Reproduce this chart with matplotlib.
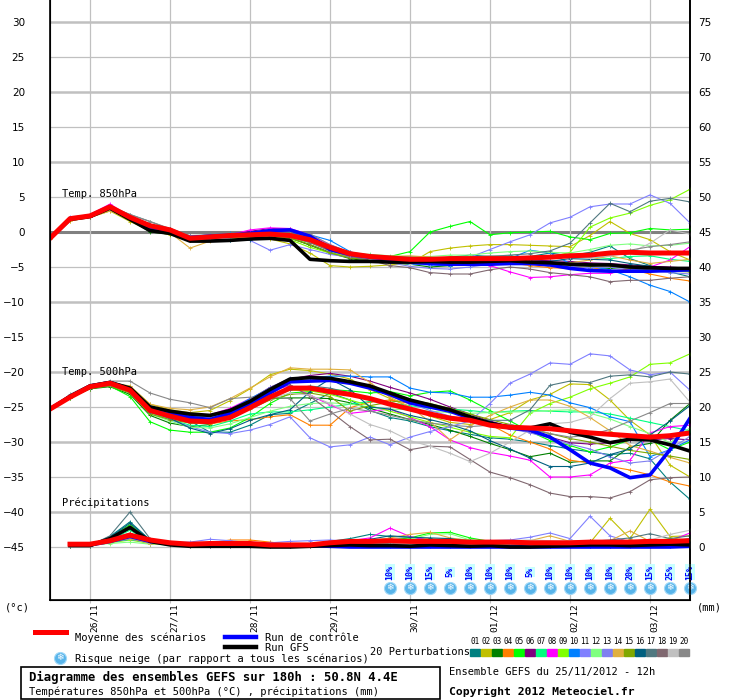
import numpy as np
import matplotlib
matplotlib.use("Agg")
import matplotlib.pyplot as plt
from matplotlib.lines import Line2D
from matplotlib.patches import Rectangle

nan = np.nan
steps = np.arange(33)  # 6-hourly steps from 25/11 12h
day_ticks = [2, 6, 10, 14, 18, 22, 26, 30]
day_labels = ["26/11", "27/11", "28/11", "29/11", "30/11", "01/12", "02/12", "03/12"]
snow_steps = list(range(17, 33))
snow_pct = [10, 10, 15, 5, 10, 10, 10, 5, 10, 10, 10, 10, 20, 15, 25, 15]
pert_colors = ["#008080", "#c0c000", "#008000", "#ff8000", "#00ff00", "#800080", "#00ff80", "#ff00ff",
               "#80ff00", "#0080ff", "#8080ff", "#80ff80", "#8080f0", "#e0b040", "#80a800", "#006080",
               "#507880", "#806870", "#c0c0c0", "#888888"]

# ---- 850 hPa (degC)
t850_mean = [-0.9, 1.9, 2.3, 3.6, 2.1, 0.9, 0.3, -0.9, -0.7, -0.5, -0.4,
             -0.3, -0.5, -1.1, -2.2, -3.1, -3.5, -3.7, -3.9, -3.9, -3.8, -3.8,
             -3.8, -3.8, -3.7, -3.6, -3.4, -3.3, -3.0, -2.9, -3.0, -3.0, -3.0]
t850_gfs = [-0.9, 1.8, 2.2, 3.4, 1.8, 0.2, -0.2, -1.3, -1.3, -1.2, -1.0,
            -0.9, -1.2, -3.9, -4.1, -4.2, -4.2, -4.3, -4.3, -4.2, -4.3, -4.3,
            -4.2, -4.1, -4.3, -4.4, -4.6, -4.7, -4.7, -5.0, -5.1, -5.2, -5.2]
t850_ctrl = [-0.9, 1.9, 2.3, 3.6, 2.0, 0.6, 0.0, -0.8, -0.6, -0.5, -0.2,
             0.2, 0.3, -0.6, -2.5, -3.2, -3.6, -3.9, -4.3, -4.5, -4.6, -4.6,
             -4.6, -4.5, -4.5, -4.7, -5.2, -5.5, -5.6, -5.6, -5.6, -5.5, -5.4]
t850_p01 = [-0.9, 1.7, 2.2, 3.4, 2.2, 1.0, 0.3, -1.0, -1.1, -1.1, -0.7, -0.6, -0.9, -1.8, -2.9, -3.7, -4.0, -4.1, -4.0, -3.8, -3.6, -3.3, -3.5, -3.7, -3.5, -3.0, -3.4, -2.9, -2.0, -3.8, -4.8, -5.7, -6.4]
t850_p02 = [-1.0, 1.6, 2.1, 3.0, 1.5, 0.2, -0.4, -1.1, -0.9, -0.8, -0.7, -1.0, -1.7, -3.0, -4.8, -5.0, -4.9, -4.7, -4.5, -2.8, -2.3, -2.0, -1.8, -1.8, -1.9, -2.0, -2.1, -0.5, 1.5, -0.2, -1.1, -2.8, -4.0]
t850_p03 = [-0.9, 1.8, 2.2, 3.4, 1.8, 0.0, -0.3, -1.1, -0.9, -0.6, -0.6, -0.5, -0.8, -1.9, -3.0, -3.8, -4.2, -4.4, -4.6, -5.0, -4.8, -4.7, -4.7, -4.4, -4.5, -4.9, -4.9, -5.1, -5.2, -5.0, -5.1, -5.3, -5.4]
t850_p04 = [-0.8, 1.9, 2.4, 3.5, 2.3, 0.9, 0.4, -0.7, -0.6, -0.5, -0.4, 0.2, 0.0, -1.2, -2.6, -3.3, -3.7, -3.9, -4.1, -4.3, -4.5, -4.4, -4.5, -4.4, -4.8, -5.1, -5.2, -5.0, -5.6, -5.3, -6.0, -6.6, -7.0]
t850_p05 = [-0.9, 1.7, 2.1, 3.3, 2.0, 0.6, 0.2, -0.9, -0.7, -0.6, -0.5, -0.6, -0.8, -1.5, -2.5, -3.2, -3.5, -3.5, -2.8, 0.0, 0.8, 1.5, -0.4, -0.1, 0.0, 0.1, -0.7, -1.1, -0.2, -0.1, 0.5, 0.3, 0.4]
t850_p06 = [-0.9, 1.9, 2.4, 3.7, 2.3, 1.0, 0.3, -0.6, -0.5, -0.3, 0.1, 0.5, 0.4, -0.5, -2.0, -3.0, -3.4, -3.7, -3.9, -4.0, -4.1, -4.0, -3.9, -3.9, -4.0, -4.1, -4.2, -4.4, -4.5, -4.7, -4.9, -5.0, -5.2]
t850_p07 = [-0.9, 1.8, 2.3, 3.5, 2.1, 0.8, 0.2, -0.8, -0.7, -0.5, -0.4, -0.2, -0.4, -1.2, -2.4, -3.3, -3.6, -3.5, -3.6, -3.7, -3.9, -3.6, -3.5, -3.4, -3.7, -3.6, -3.3, -3.6, -3.8, -3.5, -3.4, -3.9, -4.2]
t850_p08 = [-0.9, 1.9, 2.5, 4.0, 2.2, 1.0, 0.4, -0.8, -0.6, -0.4, 0.3, 0.6, 0.5, -0.4, -1.8, -3.0, -3.5, -3.7, -4.0, -4.1, -4.2, -4.4, -4.8, -5.7, -6.5, -6.4, -6.1, -5.9, -5.9, -5.4, -5.0, -4.0, -2.1]
t850_p09 = [-0.9, 1.8, 2.2, 3.5, 2.0, 0.7, 0.1, -1.0, -0.9, -0.8, -0.7, -0.7, -1.1, -2.2, -3.0, -3.5, -3.7, -3.8, -3.9, -3.8, -3.7, -3.6, -3.8, -4.0, -3.9, -3.6, -2.9, 0.7, 2.0, 2.7, 3.8, 4.6, 6.1]
t850_p10 = [-0.9, 2.0, 2.4, 3.6, 2.3, 1.1, 0.5, -0.6, -0.4, -0.2, -0.1, 0.0, -0.2, -0.4, -1.2, -2.8, -3.7, -4.2, -4.6, -4.7, -4.8, -4.6, -4.5, -3.8, -2.6, -3.0, -4.5, -4.9, -5.4, -6.4, -7.6, -8.5, -10.0]
t850_p11 = [-0.9, 2.2, 2.3, 3.5, 2.0, 0.8, 0.1, -0.8, -0.8, -0.9, -1.2, -2.6, -1.8, -2.5, -3.2, -3.6, -3.8, -4.0, -4.2, -4.4, -4.3, -3.6, -2.5, -1.4, -0.4, 1.3, 2.1, 3.6, 4.0, 4.0, 5.3, 4.1, 1.3]
t850_p12 = [-0.9, 1.8, 2.3, 3.4, 2.1, 0.9, 0.3, -0.8, -0.6, -0.5, -0.4, -0.4, -0.7, -1.3, -2.4, -3.1, -3.2, -3.4, -3.5, -3.5, -3.3, -3.3, -3.0, -2.8, -2.7, -2.9, -3.0, -2.5, -1.9, -1.7, -2.0, -1.9, -1.6]
t850_p13 = [-0.9, 1.9, 2.3, 3.6, 2.0, 0.8, 0.3, -0.9, -0.8, -0.7, -0.5, -0.4, -0.6, -1.3, -2.6, -3.4, -3.9, -4.4, -4.9, -5.2, -5.3, -5.0, -4.6, -4.4, -4.6, -4.8, -4.9, -5.1, -5.0, -5.3, -5.5, -5.8, -6.0]
t850_p14 = [-1.0, 1.6, 2.1, 3.0, 1.9, 0.5, -0.1, -2.3, -1.3, -1.0, -0.7, -0.5, -0.8, -1.5, -2.7, -3.4, -3.6, -3.5, -3.4, -3.6, -3.8, -4.0, -4.1, -4.3, -4.6, -4.8, -4.4, -4.0, -3.4, -4.0, -4.5, -4.2, -3.9]
t850_p15 = [-0.9, 1.8, 2.2, 3.4, 2.0, 0.6, 0.2, -0.9, -0.8, -0.6, -0.6, -0.5, -0.9, -1.8, -3.0, -3.7, -4.0, -4.1, -4.2, -4.3, -4.3, -4.4, -4.2, -4.3, -4.5, -4.6, -4.7, -4.9, -4.8, -5.2, -5.4, -5.6, -5.7]
t850_p16 = [-0.9, 1.9, 2.3, 3.6, 2.0, 0.9, 0.4, -1.0, -0.9, -1.2, -1.1, -0.3, -0.3, -1.0, -2.1, -3.2, -3.7, -3.9, -4.0, -4.3, -4.5, -4.5, -4.4, -4.3, -4.5, -4.2, -3.8, -3.9, -4.0, -4.5, -4.9, -5.3, -5.6]
t850_p17 = [-0.9, 1.8, 2.3, 3.6, 2.5, 1.5, 0.4, -0.7, -0.5, -0.5, -0.4, -0.3, -0.1, -0.8, -2.0, -3.0, -3.4, -3.6, -3.7, -3.9, -4.0, -3.7, -3.5, -3.3, -3.1, -2.7, -1.6, 1.3, 4.1, 2.9, 4.4, 4.8, 4.3]
t850_p18 = [-0.9, 1.8, 2.2, 3.4, 2.0, 0.7, 0.2, -0.9, -0.8, -0.7, -0.6, -0.5, -0.7, -1.5, -2.7, -3.5, -4.0, -4.8, -5.1, -5.8, -6.0, -6.0, -5.4, -5.0, -5.3, -5.8, -6.1, -6.4, -7.1, -6.9, -6.9, -6.6, -6.4]
t850_p19 = [-0.9, 1.9, 2.3, 3.5, 2.2, 0.9, 0.3, -0.8, -0.7, -0.5, -0.4, -0.3, -0.5, -1.2, -2.4, -3.3, -3.8, -4.2, -4.5, -4.6, -4.5, -4.3, -4.0, -3.8, -3.7, -3.6, -3.5, -3.7, -3.4, -3.0, -1.6, 0.3, -0.3]
t850_p20 = [-0.8, 1.9, 2.4, 3.7, 2.5, 1.5, 0.5, -0.5, -0.4, -0.3, -0.2, -0.1, 0.2, -0.3, -1.8, -2.9, -3.3, -3.5, -3.6, -3.7, -3.7, -3.6, -3.4, -3.5, -3.6, -3.5, -3.3, -3.1, -2.9, -2.6, -2.1, -1.8, -1.4]

# ---- 500 hPa (degC)
t500_mean = [-25.3, -23.6, -22.1, -21.6, -22.6, -25.5, -26.3, -27.0, -27.1, -26.5, -25.1,
             -23.6, -22.3, -22.3, -22.8, -23.2, -23.8, -24.6, -25.3, -26.0, -26.6, -26.9,
             -27.6, -27.9, -28.0, -28.1, -28.4, -28.7, -28.9, -29.1, -29.3, -29.1, -28.7]
t500_gfs = [-25.3, -23.5, -22.0, -21.5, -22.3, -25.0, -25.6, -26.0, -26.2, -25.5, -24.2,
            -22.5, -21.0, -20.8, -20.9, -21.4, -22.0, -23.0, -24.0, -24.7, -25.4, -26.4,
            -27.3, -27.9, -28.0, -27.4, -28.6, -29.3, -30.1, -29.6, -29.7, -30.4, -31.3]
t500_ctrl = [-25.3, -23.5, -22.0, -21.5, -22.4, -25.2, -25.9, -26.5, -26.8, -25.9, -24.5,
             -23.0, -21.4, -21.3, -21.2, -21.6, -22.3, -23.2, -24.4, -25.0, -25.6, -26.6,
             -27.3, -28.0, -28.3, -29.3, -31.1, -33.0, -33.7, -35.1, -34.7, -31.1, -26.6]
t500_p01 = [-25.3, -23.5, -22.3, -21.8, -22.3, -24.8, -25.7, -27.0, -28.6, -28.6, -27.6, -26.1, -25.9, -24.5, -23.0, -24.0, -25.5, -26.5, -27.0, -27.8, -28.4, -28.9, -29.4, -29.6, -30.0, -30.5, -31.0, -31.4, -31.8, -31.6, -32.4, -35.7, -38.2]
t500_p02 = [-25.3, -23.7, -22.4, -21.9, -22.0, -24.6, -25.4, -25.8, -25.5, -24.1, -22.4, -20.4, -19.6, -19.8, -20.3, -21.0, -22.5, -23.8, -25.0, -26.3, -27.2, -27.5, -26.8, -25.8, -24.0, -23.2, -21.7, -21.8, -24.0, -26.9, -29.0, -33.3, -35.0]
t500_p03 = [-25.3, -23.7, -22.4, -22.1, -23.2, -26.2, -27.3, -27.8, -27.5, -26.5, -25.0, -23.8, -23.7, -23.7, -23.8, -24.4, -25.2, -26.0, -26.8, -27.5, -28.3, -29.2, -30.2, -31.1, -32.1, -31.6, -32.9, -32.7, -32.7, -30.7, -30.2, -26.9, -24.5]
t500_p04 = [-25.3, -23.6, -22.2, -21.7, -22.5, -25.4, -26.5, -27.2, -27.4, -27.0, -26.8, -26.4, -26.1, -27.6, -27.6, -25.1, -24.3, -24.0, -24.5, -25.0, -25.6, -26.5, -27.5, -29.0, -30.0, -31.0, -32.6, -33.0, -33.5, -34.0, -34.7, -35.7, -36.3]
t500_p05 = [-25.3, -23.5, -22.3, -22.0, -23.5, -27.1, -28.3, -28.6, -28.6, -28.0, -26.5, -24.5, -23.0, -22.8, -22.5, -22.7, -23.0, -22.8, -23.4, -22.9, -22.7, -24.0, -25.5, -27.0, -28.5, -29.8, -30.5, -31.4, -30.7, -29.7, -29.7, -31.1, -30.0]
t500_p06 = [-25.3, -23.5, -22.1, -21.6, -22.3, -25.2, -25.8, -26.2, -26.3, -25.4, -23.9, -22.2, -21.0, -20.5, -20.2, -20.6, -21.3, -22.2, -23.0, -23.9, -25.0, -26.0, -27.0, -27.8, -28.6, -29.3, -30.1, -30.3, -30.1, -29.7, -29.7, -29.5, -29.7]
t500_p07 = [-25.3, -23.6, -22.2, -21.8, -22.8, -25.8, -26.8, -27.6, -27.8, -27.0, -26.0, -25.7, -25.7, -25.4, -25.0, -24.6, -24.2, -24.4, -24.8, -25.2, -25.3, -25.5, -25.8, -25.6, -25.5, -25.6, -25.7, -25.7, -26.0, -26.6, -27.2, -27.8, -28.4]
t500_p08 = [-25.3, -23.4, -22.0, -21.5, -22.2, -25.0, -25.6, -26.0, -26.1, -25.2, -23.8, -22.6, -22.0, -23.3, -24.7, -25.9, -25.6, -25.3, -26.5, -27.8, -29.7, -30.8, -31.5, -32.0, -32.6, -35.0, -35.0, -34.7, -33.0, -32.6, -28.7, -27.8, -27.6]
t500_p09 = [-25.3, -23.6, -22.2, -21.8, -22.6, -25.6, -26.5, -27.2, -27.2, -26.4, -25.0, -23.6, -22.6, -22.7, -23.2, -24.0, -24.8, -25.6, -26.4, -27.2, -27.9, -28.6, -29.2, -29.4, -25.9, -24.5, -23.6, -22.4, -21.6, -20.7, -18.9, -18.7, -17.4]
t500_p10 = [-25.3, -23.4, -22.1, -21.7, -22.6, -25.3, -25.9, -26.4, -26.3, -25.4, -23.8, -22.3, -21.2, -20.8, -20.6, -20.6, -20.7, -20.7, -22.3, -22.9, -23.0, -23.6, -23.6, -23.3, -22.9, -23.3, -24.4, -25.1, -26.4, -27.1, -32.1, -31.1, -29.7]
t500_p11 = [-25.3, -23.3, -22.0, -21.5, -22.6, -25.4, -26.8, -27.8, -28.6, -28.8, -28.3, -27.5, -26.4, -29.4, -30.7, -30.4, -29.3, -30.4, -29.3, -28.5, -27.8, -27.0, -24.5, -21.6, -20.3, -18.7, -18.9, -17.4, -17.7, -19.7, -20.4, -20.0, -22.6]
t500_p12 = [-25.3, -23.5, -22.3, -21.9, -22.9, -26.0, -27.0, -27.9, -28.0, -27.4, -26.5, -25.6, -24.9, -24.5, -24.4, -24.6, -25.0, -25.3, -25.4, -25.6, -25.8, -25.9, -25.8, -25.7, -25.7, -25.5, -25.4, -25.9, -26.7, -27.8, -28.8, -30.1, -28.0]
t500_p13 = [-25.3, -23.5, -22.1, -21.6, -22.4, -25.2, -25.9, -26.4, -26.5, -25.6, -24.0, -22.2, -20.9, -20.7, -20.8, -21.3, -22.2, -23.4, -24.5, -25.5, -26.3, -27.0, -27.6, -28.1, -28.7, -29.4, -30.3, -31.0, -32.1, -33.0, -32.7, -31.0, -29.2]
t500_p14 = [-25.3, -23.4, -22.0, -21.5, -22.0, -24.6, -25.2, -25.4, -25.0, -23.8, -22.3, -20.7, -19.4, -19.6, -19.6, -19.7, -21.5, -23.6, -25.0, -27.1, -29.7, -27.7, -26.2, -25.0, -24.0, -24.0, -24.9, -26.5, -28.4, -30.5, -31.3, -32.2, -33.0]
t500_p15 = [-25.3, -23.6, -22.3, -22.0, -23.0, -26.0, -26.8, -27.3, -27.3, -26.6, -25.3, -24.0, -23.2, -23.0, -23.5, -25.6, -24.8, -24.3, -24.0, -24.5, -25.2, -26.0, -26.8, -27.5, -28.2, -28.8, -29.5, -30.0, -30.6, -31.2, -31.6, -32.0, -32.5]
t500_p16 = [-25.3, -23.5, -22.2, -21.8, -22.7, -25.5, -26.6, -28.0, -28.8, -28.1, -26.9, -26.1, -25.4, -22.8, -21.0, -22.5, -25.0, -25.3, -26.2, -26.8, -27.5, -28.4, -29.8, -31.0, -32.3, -33.5, -33.5, -33.0, -31.8, -31.0, -29.0, -27.0, -24.8]
t500_p17 = [-25.3, -23.6, -22.3, -21.9, -22.8, -25.7, -26.6, -27.2, -27.0, -26.2, -24.8, -23.4, -22.5, -22.0, -22.3, -23.0, -23.8, -24.6, -25.3, -26.0, -26.6, -26.7, -26.9, -26.9, -25.4, -21.9, -21.3, -21.5, -20.6, -20.4, -20.7, -20.0, -20.3]
t500_p18 = [-25.3, -23.5, -22.1, -21.6, -22.4, -25.2, -26.0, -26.6, -26.7, -25.8, -24.3, -22.7, -21.8, -23.5, -25.6, -27.8, -29.7, -29.6, -31.1, -30.6, -30.7, -32.5, -34.3, -35.1, -36.1, -37.3, -37.8, -37.8, -38.0, -37.1, -35.4, -35.1, -35.0]
t500_p19 = [-25.3, -23.6, -22.2, -21.7, -22.6, -25.4, -26.1, -26.8, -26.9, -26.2, -25.0, -23.8, -23.0, -23.3, -24.5, -26.0, -27.5, -28.4, -29.8, -30.6, -31.6, -32.8, -31.6, -30.0, -28.3, -27.4, -27.2, -26.4, -23.8, -21.6, -21.4, -21.0, -24.3]
t500_p20 = [-25.3, -23.2, -21.8, -21.3, -21.3, -23.0, -23.9, -24.4, -25.1, -23.8, -23.6, -23.6, -23.8, -27.0, -26.0, -25.2, -25.6, -26.2, -26.8, -27.3, -27.6, -27.8, -27.6, -27.5, -28.0, -28.8, -29.3, -29.0, -28.2, -27.0, -25.8, -24.5, -24.5]

# ---- precipitation (mm, right axis)
pr_mean = [nan, 0.4, 0.4, 0.9, 1.7, 1.0, 0.6, 0.4, 0.5, 0.5, 0.5, 0.3, 0.3, 0.3, 0.6, 0.8, 0.8, 0.9, 0.8, 0.8, 0.8, 0.7, 0.7, 0.7, 0.6, 0.6, 0.6, 0.7, 0.7, 0.7, 0.8, 0.8, 0.9]
pr_gfs = [nan, 0.2, 0.2, 1.2, 2.8, 0.8, 0.3, 0.1, 0.1, 0.1, 0.1, 0.0, 0.0, 0.1, 0.2, 0.3, 0.2, 0.2, 0.1, 0.3, 0.2, 0.1, 0.2, 0.0, 0.0, 0.1, 0.2, 0.3, 0.3, 0.2, 0.3, 0.4, 0.3]
pr_ctrl = [nan, 0.3, 0.3, 0.8, 1.5, 0.8, 0.5, 0.3, 0.3, 0.3, 0.3, 0.2, 0.2, 0.2, 0.1, 0.0, 0.0, 0.0, 0.0, 0.0, 0.0, 0.0, 0.0, 0.0, 0.0, 0.0, 0.0, 0.0, 0.0, 0.0, 0.0, 0.0, 0.1]
pr_p01 = [nan, 0.2, 0.2, 1.5, 3.6, 1.0, 0.4, 0.3, 0.3, 0.3, 0.2, 0.2, 0.3, 0.4, 0.8, 1.2, 1.8, 1.5, 1.4, 1.0, 0.6, 0.5, 0.4, 0.5, 0.3, 0.6, 0.8, 0.9, 0.6, 0.4, 0.6, 0.8, 1.2]
pr_p02 = [nan, 0.3, 0.3, 1.0, 1.6, 0.6, 0.3, 0.2, 0.2, 0.2, 0.1, 0.1, 0.2, 0.3, 0.4, 0.5, 0.4, 0.5, 0.4, 0.3, 0.3, 0.4, 0.3, 0.5, 0.6, 0.5, 0.4, 0.6, 4.1, 1.2, 5.4, 1.5, 1.6]
pr_p03 = [nan, 0.3, 0.3, 1.2, 2.6, 0.8, 0.3, 0.2, 0.1, 0.1, 0.1, 0.1, 0.2, 0.3, 0.5, 0.6, 0.8, 0.6, 0.5, 0.7, 0.6, 0.5, 0.4, 0.4, 0.3, 0.3, 0.2, 0.3, 0.4, 0.3, 0.4, 0.5, 0.6]
pr_p04 = [nan, 0.3, 0.3, 0.9, 1.8, 0.6, 0.3, 0.4, 0.6, 1.0, 1.0, 0.7, 0.4, 0.3, 0.4, 0.5, 0.6, 0.9, 1.0, 1.2, 0.9, 0.8, 0.6, 0.5, 0.6, 0.7, 0.8, 0.9, 0.6, 0.7, 0.5, 0.6, 0.9]
pr_p05 = [nan, 0.2, 0.2, 1.3, 3.2, 0.9, 0.3, 0.2, 0.2, 0.2, 0.2, 0.2, 0.3, 0.4, 0.6, 0.9, 0.9, 1.0, 1.3, 2.0, 2.1, 1.3, 0.8, 0.6, 0.5, 0.6, 0.5, 0.4, 0.4, 0.5, 0.3, 0.4, 0.6]
pr_p06 = [nan, 0.3, 0.3, 0.8, 1.5, 0.5, 0.3, 0.2, 0.2, 0.2, 0.1, 0.1, 0.1, 0.2, 0.3, 0.4, 0.5, 0.4, 0.4, 0.3, 0.3, 0.4, 0.3, 0.3, 0.4, 0.2, 0.3, 0.3, 0.2, 0.3, 0.4, 0.3, 0.5]
pr_p07 = [nan, 0.3, 0.3, 1.0, 2.4, 0.7, 0.3, 0.2, 0.2, 0.3, 0.3, 0.2, 0.2, 0.3, 0.5, 0.7, 0.9, 1.0, 0.8, 1.0, 1.2, 1.0, 0.7, 0.6, 0.5, 0.4, 0.4, 0.6, 0.5, 0.6, 0.5, 0.7, 0.8]
pr_p08 = [nan, 0.3, 0.3, 0.8, 1.5, 0.7, 0.4, 0.2, 0.2, 0.2, 0.2, 0.2, 0.2, 0.3, 0.5, 0.9, 1.3, 2.7, 1.5, 0.9, 0.7, 0.6, 0.8, 0.7, 0.5, 0.4, 0.3, 0.3, 0.4, 0.3, 0.5, 0.9, 2.0]
pr_p09 = [nan, 0.2, 0.2, 0.6, 1.0, 0.5, 0.3, 0.2, 0.2, 0.2, 0.2, 0.3, 0.3, 0.4, 0.4, 0.5, 0.6, 0.6, 0.5, 0.4, 0.5, 0.4, 0.3, 0.3, 0.2, 0.3, 0.2, 0.3, 0.2, 0.3, 0.8, 1.2, 1.0]
pr_p10 = [nan, 0.3, 0.3, 0.7, 1.1, 0.6, 0.3, 0.2, 0.2, 0.2, 0.1, 0.1, 0.1, 0.1, 0.2, 0.3, 0.3, 0.2, 0.1, 0.1, 0.1, 0.1, 0.1, 0.2, 0.1, 0.1, 0.2, 0.1, 0.1, 0.1, 0.1, 0.2, 0.2]
pr_p11 = [nan, 0.3, 0.3, 0.8, 1.4, 0.7, 0.6, 0.7, 1.1, 0.9, 0.6, 0.6, 0.8, 0.9, 1.0, 0.8, 0.6, 0.5, 0.4, 0.6, 0.5, 0.6, 0.9, 1.0, 1.4, 2.0, 1.2, 4.4, 1.6, 0.7, 0.5, 0.6, 0.9]
pr_p12 = [nan, 0.3, 0.3, 0.5, 0.7, 0.4, 0.3, 0.3, 0.3, 0.2, 0.2, 0.2, 0.3, 0.4, 0.6, 0.8, 0.8, 0.9, 1.1, 1.8, 1.9, 1.0, 0.7, 0.6, 0.5, 0.4, 0.5, 0.4, 0.6, 0.8, 0.9, 0.7, 0.6]
pr_p13 = [nan, 0.3, 0.3, 0.8, 1.4, 0.6, 0.3, 0.2, 0.2, 0.2, 0.2, 0.1, 0.2, 0.2, 0.3, 0.4, 0.5, 0.4, 0.3, 0.3, 0.4, 0.3, 0.3, 0.2, 0.3, 0.3, 0.2, 0.3, 0.3, 0.2, 0.3, 0.4, 0.4]
pr_p14 = [nan, 0.3, 0.3, 0.7, 1.2, 0.5, 0.3, 0.2, 0.3, 0.4, 0.5, 0.3, 0.2, 0.3, 0.5, 0.7, 0.9, 1.3, 1.8, 2.1, 1.3, 0.9, 0.6, 0.5, 0.9, 1.6, 0.8, 0.6, 0.9, 2.3, 0.8, 0.7, 0.8]
pr_p15 = [nan, 0.2, 0.2, 1.2, 3.0, 0.9, 0.3, 0.2, 0.2, 0.2, 0.1, 0.1, 0.1, 0.2, 0.3, 0.5, 0.6, 0.5, 0.6, 0.7, 0.5, 0.4, 0.4, 0.3, 0.3, 0.4, 0.3, 0.2, 0.3, 0.4, 0.6, 0.5, 0.4]
pr_p16 = [nan, 0.2, 0.2, 1.4, 3.4, 1.0, 0.3, 0.2, 0.2, 0.2, 0.2, 0.2, 0.2, 0.3, 0.5, 0.8, 1.1, 1.6, 1.4, 1.3, 1.2, 0.8, 0.6, 0.5, 0.4, 0.3, 0.5, 0.7, 0.9, 0.8, 1.1, 0.8, 0.6]
pr_p17 = [nan, 0.2, 0.2, 1.6, 5.0, 1.2, 0.4, 0.2, 0.2, 0.2, 0.2, 0.2, 0.2, 0.3, 0.4, 0.5, 0.7, 0.8, 0.7, 0.6, 0.5, 0.6, 0.5, 0.4, 0.6, 0.5, 0.6, 0.8, 1.0, 1.3, 1.9, 1.2, 1.6]
pr_p18 = [nan, 0.3, 0.3, 1.2, 2.0, 0.7, 0.3, 0.3, 0.4, 0.6, 0.5, 0.3, 0.3, 0.4, 0.5, 0.6, 0.7, 0.5, 0.5, 0.6, 0.5, 0.4, 0.6, 0.4, 0.3, 0.4, 0.5, 0.4, 0.3, 0.4, 0.5, 0.3, 0.4]
pr_p19 = [nan, 0.3, 0.3, 0.9, 1.7, 0.6, 0.3, 0.2, 0.2, 0.2, 0.2, 0.2, 0.2, 0.3, 0.4, 0.5, 0.5, 0.6, 0.5, 0.4, 0.5, 0.4, 0.5, 0.9, 1.0, 0.9, 0.8, 0.7, 0.6, 0.8, 1.0, 1.8, 2.4]
pr_p20 = [nan, 0.2, 0.2, 1.4, 2.8, 0.9, 0.3, 0.2, 0.2, 0.2, 0.1, 0.1, 0.1, 0.2, 0.3, 0.4, 0.5, 0.4, 0.3, 0.3, 0.2, 0.3, 0.2, 0.1, 0.2, 0.2, 0.1, 0.2, 0.1, 0.2, 0.1, 0.2, 0.1]

t850_pert = [t850_p01, t850_p02, t850_p03, t850_p04, t850_p05, t850_p06, t850_p07, t850_p08, t850_p09, t850_p10,
             t850_p11, t850_p12, t850_p13, t850_p14, t850_p15, t850_p16, t850_p17, t850_p18, t850_p19, t850_p20]
t500_pert = [t500_p01, t500_p02, t500_p03, t500_p04, t500_p05, t500_p06, t500_p07, t500_p08, t500_p09, t500_p10,
             t500_p11, t500_p12, t500_p13, t500_p14, t500_p15, t500_p16, t500_p17, t500_p18, t500_p19, t500_p20]
pr_pert = [pr_p01, pr_p02, pr_p03, pr_p04, pr_p05, pr_p06, pr_p07, pr_p08, pr_p09, pr_p10,
           pr_p11, pr_p12, pr_p13, pr_p14, pr_p15, pr_p16, pr_p17, pr_p18, pr_p19, pr_p20]

PR_OFF = -45  # 0 mm sits on -45 degC of the left scale
MONO = "DejaVu Sans Mono"
W, H = 740, 700


def fx(x):
    return x / W


def fy(y):
    return 1 - y / H


def flake(ax, x, y, transform):
    ax.scatter([x], [y], s=75, color="#58b4ea", edgecolors="#9fd8f8", linewidths=0.8,
               transform=transform, zorder=8, clip_on=False)
    ax.text(x, y, "\u2744", color="white", fontsize=6.5, ha="center", va="center",
            transform=transform, zorder=9, family="DejaVu Sans", clip_on=False)


fig = plt.figure(figsize=(W / 100, H / 100), dpi=100)
ax = fig.add_axes([fx(50), 1 - 600 / H, 640 / W, 600 / H])
ax.set_xlim(0, 32)
ax.set_ylim(-368 / 7, 232 / 7)

# grid
for v in range(-45, 31, 5):
    if v == 0:
        ax.axhline(v, color="#808080", lw=2.2, zorder=1)
    else:
        ax.axhline(v, color="#c0c0c0", lw=1.8 if v % 10 == 0 else 0.9, zorder=1)
for d in day_ticks:
    ax.axvline(d, color="#c0c0c0", lw=0.9, zorder=1)

# ensemble members
for c, a, b, p in zip(pert_colors, t850_pert, t500_pert, pr_pert):
    kw = dict(color=c, lw=0.8, marker="+", ms=2.6, mew=0.6, zorder=3)
    ax.plot(steps, a, **kw)
    ax.plot(steps, b, **kw)
    ax.plot(steps, np.array(p) + PR_OFF, **kw)

# control, GFS, mean
for ser in (t850_ctrl, t500_ctrl, np.array(pr_ctrl) + PR_OFF):
    ax.plot(steps, ser, color="#0000ff", lw=2.6, zorder=4)
for ser in (t850_gfs, t500_gfs, np.array(pr_gfs) + PR_OFF):
    ax.plot(steps, ser, color="black", lw=2.6, zorder=5)
for ser in (t850_mean, t500_mean, np.array(pr_mean) + PR_OFF):
    ax.plot(steps, ser, color="#ff0000", lw=3.6, zorder=6)

ax.text(0.6, (232 - 194) / 7, "Temp. 850hPa", family=MONO, fontsize=7.5, va="center", zorder=7)
ax.text(0.6, (232 - 372) / 7, "Temp. 500hPa", family=MONO, fontsize=7.5, va="center", zorder=7)
ax.text(0.6, (232 - 503) / 7, "Pr\u00e9cipitations", family=MONO, fontsize=7.5, va="center", zorder=7)

# snow risk
for s, pct in zip(snow_steps, snow_pct):
    flake(ax, s, (232 - 588) / 7, ax.transData)
    ax.text(s, (232 - 572) / 7, f"{pct}%", rotation=90, ha="center", va="center", color="#0000ff",
            family=MONO, fontsize=6, fontweight="bold", zorder=9, clip_on=False,
            bbox=dict(boxstyle="square,pad=0.05", fc="#c8ffff", ec="none"))

# axes
for sp in ("left", "right", "bottom"):
    ax.spines[sp].set_color("black")
    ax.spines[sp].set_linewidth(1.2)
ax.spines["top"].set_visible(False)
ax.set_yticks(range(-45, 31, 5))
ax.tick_params(axis="y", length=0, pad=18, labelsize=7.5)
ax.set_xticks(day_ticks)
ax.set_xticklabels(day_labels, rotation=90, family=MONO, fontsize=6.8, ha="left", va="top")
ax.tick_params(axis="x", length=2, color="#c0c0c0", pad=0.3)
ax2 = ax.twinx()
ax2.set_ylim(-368 / 7 + 45, 232 / 7 + 45)
ax2.set_yticks(range(0, 76, 5))
ax2.tick_params(axis="y", length=0, pad=6, labelsize=7.5)
ax2.spines["top"].set_visible(False)
ax2.spines["right"].set_linewidth(1.2)

fig.text(fx(5), fy(607), "(\u00b0c)", family=MONO, fontsize=7.5, va="center")
fig.text(fx(697), fy(607), "(mm)", family=MONO, fontsize=7.5, va="center")

# legend
fig.add_artist(Line2D([fx(35), fx(66)], [fy(632), fy(632)], color="#ff0000", lw=3.6))
fig.text(fx(75), fy(638), "Moyenne des sc\u00e9narios", family=MONO, fontsize=7.5, va="center")
fig.add_artist(Line2D([fx(225), fx(256)], [fy(637), fy(637)], color="#0000ff", lw=3.2))
fig.text(fx(265), fy(638), "Run de contr\u00f4le", family=MONO, fontsize=7.5, va="center")
fig.add_artist(Line2D([fx(225), fx(256)], [fy(647), fy(647)], color="black", lw=3.2))
fig.text(fx(265), fy(648), "Run GFS", family=MONO, fontsize=7.5, va="center")
flake(ax, fx(60), fy(658), fig.transFigure)
fig.text(fx(75), fy(659), "Risque neige (par rapport a tous les sc\u00e9narios)", family=MONO, fontsize=7.5, va="center")
fig.text(fx(370), fy(652), "20 Perturbations", family=MONO, fontsize=7.5, va="center")
for i, c in enumerate(pert_colors):
    x0 = 470 + 11 * i
    fig.text(fx(x0 + 5), fy(642), f"{i + 1:02d}", family=MONO, fontsize=5.5, ha="center", va="center")
    fig.add_artist(Rectangle((fx(x0), fy(656)), 10 / W, 7 / H, color=c, transform=fig.transFigure))

# title box
fig.add_artist(Rectangle((fx(21), fy(699)), 419 / W, 32 / H, fill=False, ec="black", lw=1.2,
                         transform=fig.transFigure))
fig.text(fx(29), fy(677), "Diagramme des ensembles GEFS sur 180h : 50.8N 4.4E", family=MONO,
         fontsize=8.8, fontweight="bold", va="center")
fig.text(fx(29), fy(692), "Temp\u00e9ratures 850hPa et 500hPa (\u00b0C) , pr\u00e9cipitations (mm)", family=MONO,
         fontsize=7.5, va="center")
fig.text(fx(449), fy(672), "Ensemble GEFS du 25/11/2012 - 12h", family=MONO, fontsize=7.5, va="center")
fig.text(fx(449), fy(692), "Copyright 2012 Meteociel.fr", family=MONO, fontsize=8.2, fontweight="bold",
         va="center")

fig.savefig("out.png", dpi=100)
